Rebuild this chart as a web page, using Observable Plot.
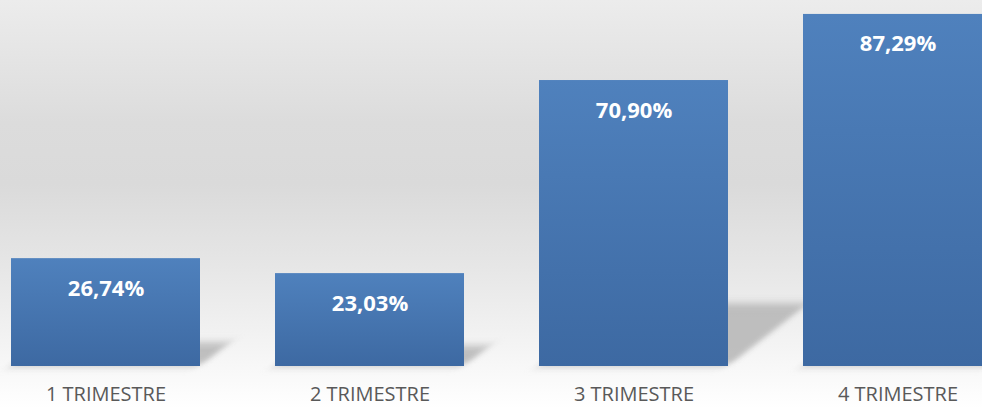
<!DOCTYPE html>
<html>
<head>
<meta charset="utf-8">
<script src="https://cdn.jsdelivr.net/npm/d3@7"></script>
<script src="https://cdn.jsdelivr.net/npm/@observablehq/plot@0.6"></script>
<style>
  html, body { margin: 0; padding: 0; }
  #chart {
    width: 982px; height: 408px; overflow: hidden;
    background: linear-gradient(to bottom, #ececec 0%, #dcdcdc 30%, #dadada 45%, #e6e6e6 65%, #f4f4f4 85%, #ffffff 100%);
  }
  .shadow rect {
    transform-box: fill-box;
    transform-origin: 0% 100%;
    transform: skewX(-52deg);
    filter: blur(4px);
  }
</style>
</head>
<body>
<svg width="0" height="0" style="position:absolute">
  <defs>
    <linearGradient id="barGrad" x1="0" y1="0" x2="0" y2="1">
      <stop offset="0" stop-color="#4f81bd"/>
      <stop offset="1" stop-color="#3d69a2"/>
    </linearGradient>
  </defs>
</svg>
<div id="chart"></div>
<script>
const categories = ["1 TRIMESTRE", "2 TRIMESTRE", "3 TRIMESTRE", "4 TRIMESTRE"];
const values = [26.74, 23.03, 70.90, 87.29];
const valueLabels = ["26,74%", "23,03%", "70,90%", "87,29%"];

const data = categories.map((c, i) => ({cat: c, value: values[i], label: valueLabels[i]}));

const chart = Plot.plot({
  width: 982,
  height: 408,
  marginTop: 3,
  marginBottom: 42,
  marginLeft: 11,
  marginRight: 0,
  style: {background: "transparent", fontFamily: "'Open Sans', sans-serif", overflow: "visible"},
  x: {domain: categories, range: [11, 993.6], paddingInner: 0.285, paddingOuter: 0, align: 0},
  y: {domain: [0, 90], axis: null},
  marks: [
    Plot.barY(data, {x: "cat", y: d => d.value * 0.22, fill: "#b5b5b5", fillOpacity: 0.85, className: "shadow"}),
    Plot.barY(data, {x: "cat", y: "value", fill: "url(#barGrad)"}),
    Plot.text(data, {x: "cat", y: "value", text: "label", dy: 30, fill: "white", fontSize: 22, fontWeight: "bold"}),
    Plot.axisX({tickSize: 0, tickPadding: 20, fontSize: 20, color: "#595959", label: null})
  ]
});
document.getElementById("chart").appendChild(chart);
</script>
</body>
</html>
